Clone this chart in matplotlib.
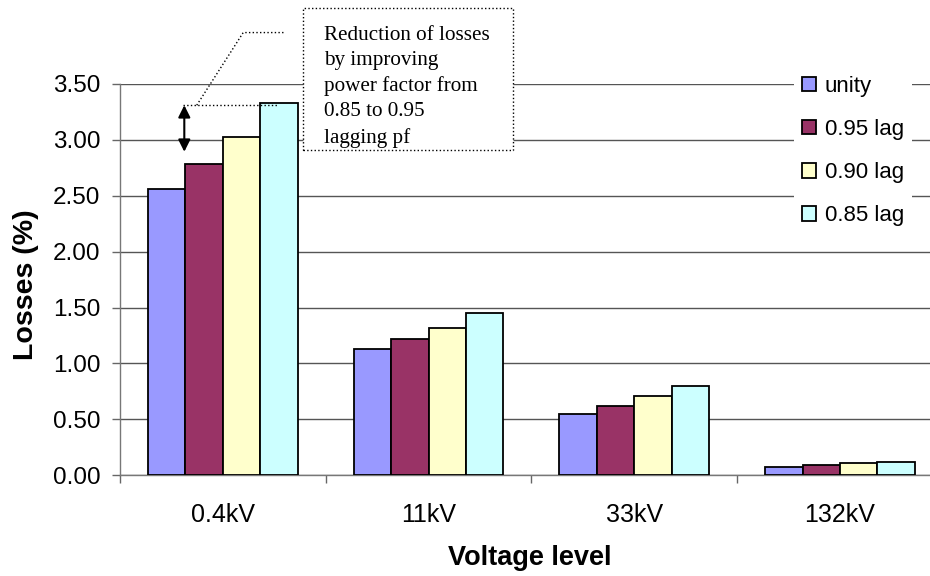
import matplotlib
matplotlib.use("Agg")
import matplotlib.pyplot as plt
from matplotlib.patches import Rectangle
import numpy as np

plt.rcParams["font.family"] = ["Liberation Sans", "DejaVu Sans"]

# Data
voltage_levels = ["0.4kV", "11kV", "33kV", "132kV"]
pf_labels = ["unity", "0.95 lag", "0.90 lag", "0.85 lag"]
losses_unity = [2.56, 1.13, 0.55, 0.07]
losses_095 = [2.78, 1.22, 0.62, 0.09]
losses_090 = [3.03, 1.32, 0.71, 0.11]
losses_085 = [3.33, 1.45, 0.80, 0.12]
colors = ["#9999FF", "#993366", "#FFFFCC", "#CCFFFF"]

note_text = "Reduction of losses\nby improving\npower factor from\n0.85 to 0.95\nlagging pf"

fig = plt.figure(figsize=(9.3, 5.76), dpi=100)
# plot area runs a little past the right edge, as in the source
ax = fig.add_axes([120 / 930, 100.7 / 576, 822.8 / 930, 391.3 / 576])

series = [losses_unity, losses_095, losses_090, losses_085]
x = np.arange(len(voltage_levels))
width = 1 / (len(series) + 1.5)  # Excel gap width 150%
for i, (vals, lab, col) in enumerate(zip(series, pf_labels, colors)):
    offs = (i - (len(series) - 1) / 2) * width
    ax.bar(x + offs, vals, width, color=col, edgecolor="black", linewidth=1.3,
           label=lab, zorder=3)

ax.set_xlim(-0.5, len(voltage_levels) - 0.5)
ax.set_ylim(0, 3.5)
ax.set_yticks(np.arange(0, 3.51, 0.5))
ax.yaxis.set_major_formatter("{x:.2f}")
ax.yaxis.grid(True, color="#555555", linewidth=1.0, zorder=0)

ax.set_xticks(x)
ax.set_xticklabels(voltage_levels)
ax.set_xticks(np.arange(-0.5, len(voltage_levels)), minor=True)
ax.tick_params(axis="x", which="major", length=0, pad=20, labelsize=18)
ax.tick_params(axis="x", which="minor", length=6, width=1, color="#666666", direction="out")
ax.tick_params(axis="y", length=6, width=1, color="#666666", pad=8, labelsize=17.5)

for s in ["top", "right"]:
    ax.spines[s].set_visible(False)
for s in ["left", "bottom"]:
    ax.spines[s].set_color("#777777")
    ax.spines[s].set_linewidth(1.0)

ax.set_xlabel("Voltage level", fontsize=19.5, fontweight="bold")
ax.set_ylabel("Losses (%)", fontsize=20.5, fontweight="bold")
ax.xaxis.set_label_coords(0.4985, -0.178)
ax.yaxis.set_label_coords(-0.099, 0.486)

# legend
leg = ax.legend(loc="upper left", bbox_to_anchor=(794 / 930, 1 - 68 / 576),
                bbox_transform=fig.transFigure, frameon=True, fancybox=False,
                edgecolor="none", facecolor="white", framealpha=1,
                fontsize=16, handlelength=0.63, handleheight=0.63,
                handletextpad=0.4, labelspacing=1.0, borderpad=0.35,
                borderaxespad=0)
leg.set_zorder(5)
for h in leg.legend_handles:
    h.set_linewidth(1.3)

# note box with leader line and double arrow
box = Rectangle((0.388, 2.91), 1.021, 1.267, facecolor="white", edgecolor="black",
                linestyle=":", linewidth=1.0, clip_on=False, zorder=6)
ax.add_patch(box)
# the text is cut off a little inside the box, like in the source
text_area = Rectangle((0.388, 3.008), 1.021, 1.169, transform=ax.transData)
t = ax.text(0.4917, 4.02, note_text, family=["Liberation Serif", "DejaVu Serif"],
            fontsize=15.2, va="top", ha="left", linespacing=1.43, zorder=7)
t.set_clip_path(text_area)

ax.plot([-0.127, 0.099, 0.302], [3.31, 3.96, 3.96], color="black", linestyle=":",
        linewidth=1.0, clip_on=False, zorder=6)
ax.plot([-0.194, 0.262], [3.31, 3.31], color="black", linestyle=":",
        linewidth=1.0, clip_on=False, zorder=6)
ax.annotate("", xy=(-0.1874, 2.894), xytext=(-0.1874, 3.31),
            arrowprops=dict(arrowstyle="<|-|>", color="black", lw=1.5,
                            mutation_scale=18, shrinkA=0, shrinkB=0),
            zorder=6)

fig.savefig("out.png", dpi=100)
